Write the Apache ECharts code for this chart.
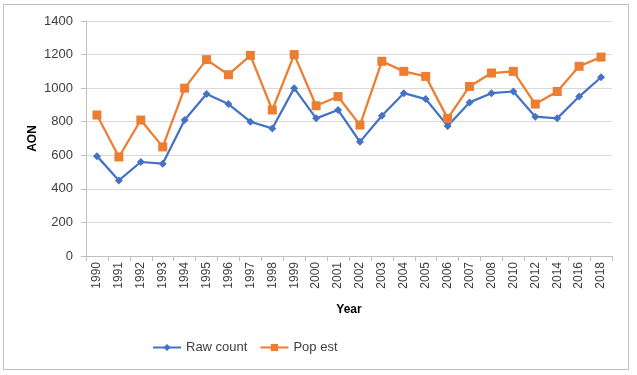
<!DOCTYPE html>
<html>
<head>
<meta charset="utf-8">
<script src="https://cdn.jsdelivr.net/npm/echarts@6/dist/echarts.min.js"></script>
<style>
html, body { margin: 0; padding: 0; background: #fff; }
#frame { position: absolute; left: 3px; top: 4px; width: 624px; height: 364px; border: 1px solid #bfbfbf; }
#chart { width: 637px; height: 375px; position: absolute; left: 0; top: 0; }
</style>
</head>
<body>
<div id="frame"></div>
<div id="chart"></div>
<script>
// 数据
var years = ['1990','1991','1992','1993','1994','1995','1996','1997','1998','1999','2000','2001',
	'2002','2003','2004','2005','2006','2007','2008','2010','2012','2014','2016','2018'];
var rawCount = [595, 450, 560, 550, 810, 965, 905, 800, 760, 1000, 820, 870,
	680, 835, 970, 935, 775, 915, 970, 980, 830, 820, 950, 1065];
var popEst = [840, 590, 810, 650, 1000, 1170, 1080, 1195, 870, 1200, 895, 950,
	780, 1160, 1100, 1070, 820, 1010, 1090, 1100, 905, 980, 1130, 1185];
var yTicks = { min: 0, max: 1400, interval: 200 };

var myChart = echarts.init(document.getElementById('chart'));
var font = 'Liberation Sans';
var option = {
	animation : false,
	grid : {
		left : 86,
		right : 25,
		top : 21,
		bottom : 119
	},
	legend : {
		bottom : 16,
		left : 147,
		itemWidth : 28,
		itemHeight : 9,
		itemGap : 12,
		textStyle : { fontFamily : font, fontSize : 13, color : '#404040' },
		data : [ 'Raw count', 'Pop est' ]
	},
	xAxis : {
		type : 'category',
		data : years,
		name : 'Year',
		nameLocation : 'middle',
		nameGap : 48,
		nameTextStyle : { fontFamily : font, fontSize : 12, fontWeight : 'bold', color : '#000' },
		axisLine : { lineStyle : { color : '#bfbfbf' } },
		axisTick : { show : true, length : 5, lineStyle : { color : '#bfbfbf' } },
		axisLabel : { rotate : 90, fontFamily : font, fontSize : 12, color : '#404040', margin : 6 }
	},
	yAxis : {
		type : 'value',
		min : yTicks.min,
		max : yTicks.max,
		interval : yTicks.interval,
		name : 'AON',
		nameLocation : 'middle',
		nameGap : 47,
		nameMoveOverlap : false,
		nameRotate : 90,
		nameTextStyle : { fontFamily : font, fontSize : 12, fontWeight : 'bold', color : '#000' },
		axisLine : { show : true, lineStyle : { color : '#bfbfbf' } },
		axisTick : { show : true, length : 5, lineStyle : { color : '#bfbfbf' } },
		axisLabel : {
			fontFamily : font, fontSize : 13, color : '#404040', margin : 13,
			formatter : function(v) { return String(v); }
		},
		splitLine : { lineStyle : { color : '#d9d9d9' } }
	},
	series : [ {
		name : 'Raw count',
		type : 'line',
		data : rawCount,
		symbol : 'diamond',
		symbolSize : 8,
		lineStyle : { width : 2.25, color : '#4472c4' },
		itemStyle : { color : '#4472c4' }
	}, {
		name : 'Pop est',
		type : 'line',
		data : popEst,
		symbol : 'rect',
		symbolSize : 9,
		lineStyle : { width : 2.25, color : '#ed7d31' },
		itemStyle : { color : '#ed7d31' }
	} ]
};
myChart.setOption(option);
</script>
</body>
</html>
